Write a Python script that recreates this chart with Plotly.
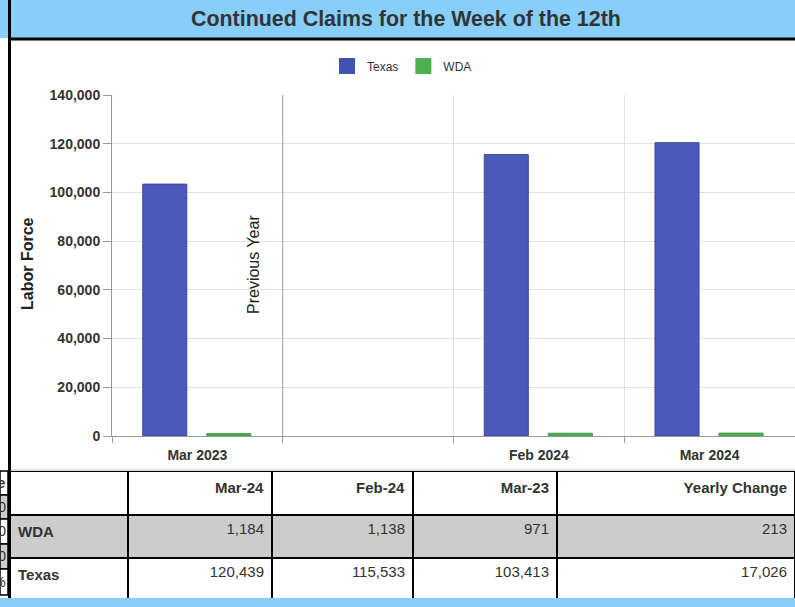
import plotly.graph_objects as go

W, H = 795, 607          # reference picture size
LAYOUT_H = 623           # rendered height (the capture squeezes it back to 607)
K = LAYOUT_H / H

# ---- data ----
categories = ["Mar 2023", " ", "Feb 2024", "Mar 2024"]
texas_values = [103413, None, 115533, 120439]
wda_values = [971, None, 1138, 1184]

table_columns = ["", "Mar-24", "Feb-24", "Mar-23", "Yearly Change"]
table_rows = ["WDA", "Texas"]
mar24 = [1184, 120439]
feb24 = [1138, 115533]
mar23 = [971, 103413]
yearly_change = [a - b for a, b in zip(mar24, mar23)]

y_ticks = [0, 20000, 40000, 60000, 80000, 100000, 120000, 140000]

FONT = "Liberation Sans, Arial, sans-serif"
BLUE_BAND = "#87cefa"
TEXAS = "#4b59bb"
WDA = "#4caf50"


def px(x):
    return x / W


def py(y):
    return 1 - y / H


fig = go.Figure()

fig.add_trace(go.Bar(name="Texas", x=categories, y=texas_values, width=0.258, offset=-0.32,
                     marker=dict(color=TEXAS, line=dict(color="#3a47a3", width=1)),
                     showlegend=False))
fig.add_trace(go.Bar(name="WDA", x=categories, y=wda_values, width=0.258, offset=0.055,
                     marker=dict(color=WDA, line=dict(color="#3d9a41", width=1)),
                     showlegend=False))
fig.add_trace(go.Scatter(name="Texas", x=[None], y=[None], mode="markers",
                         marker=dict(symbol="square", size=16, color="#3f51b5")))
fig.add_trace(go.Scatter(name="WDA", x=[None], y=[None], mode="markers",
                         marker=dict(symbol="square", size=16, color=WDA)))

fmt = lambda v: f"{v:,}"
fig.add_trace(go.Table(
    domain=dict(x=[px(10), 1], y=[py(598), py(471)]),
    columnwidth=[118, 144, 141, 144, 238],
    header=dict(values=[f"<b>{c}</b>" for c in table_columns],
                align=["left", "right", "right", "right", "right"],
                fill_color="white",
                line=dict(color="black", width=2),
                font=dict(family=FONT, size=15, color="#333"),
                height=43 * K),
    cells=dict(values=[[f"<b>{r}</b>" for r in table_rows],
                       [fmt(v) for v in mar24],
                       [fmt(v) for v in feb24],
                       [fmt(v) for v in mar23],
                       [fmt(v) for v in yearly_change]],
               align=["left", "right", "right", "right", "right"],
               fill_color=[["#cccccc", "white"]] * 5,
               line=dict(color="black", width=2),
               font=dict(family=FONT, size=15, color="#333"),
               height=42 * K),
))

shapes = [
    dict(type="rect", xref="paper", yref="paper", x0=0, x1=1, y0=py(38), y1=1,
         fillcolor=BLUE_BAND, line=dict(width=0), layer="below"),
    dict(type="line", xref="paper", yref="paper", x0=px(9), x1=1, y0=py(39), y1=py(39),
         line=dict(color="black", width=3)),
    dict(type="rect", xref="paper", yref="paper", x0=0, x1=1, y0=0, y1=py(598),
         fillcolor=BLUE_BAND, line=dict(width=0), layer="below"),
    dict(type="line", xref="paper", yref="paper", x0=px(10), x1=1, y0=py(470), y1=py(470),
         line=dict(color="#dddddd", width=2)),
    dict(type="line", xref="paper", yref="paper", x0=px(9.5), x1=px(9.5), y0=py(598), y1=1,
         line=dict(color="black", width=3)),
    dict(type="line", xref="x", yref="y domain", x0=0.5, x1=0.5, y0=-0.012, y1=1,
         line=dict(color="#a0a0a0", width=1)),
]

frag_rows = [(471, 495, "white"), (495, 519, "#cccccc"), (519, 544, "white"),
             (544, 569, "#cccccc"), (569, 595, "white")]
for y0, y1, c in frag_rows:
    shapes.append(dict(type="rect", xref="paper", yref="paper", x0=0, x1=px(8),
                       y0=py(y1), y1=py(y0), fillcolor=c,
                       line=dict(color="black", width=1.5)))

annotations = [
    dict(text="<b>Continued Claims for the Week of the 12th</b>", x=px(405.5), y=py(19),
         xref="paper", yref="paper", xanchor="center", yanchor="middle", showarrow=False,
         font=dict(family=FONT, size=21.4, color="#333")),
    dict(text="<b>Labor Force</b>", x=px(27), y=py(264), xref="paper", yref="paper",
         xanchor="center", yanchor="middle",
         showarrow=False, textangle=-90, font=dict(family=FONT, size=16, color="#222")),
    dict(text="Previous Year", x=px(253), y=py(265), xref="paper", yref="paper",
         xanchor="center", yanchor="middle",
         showarrow=False, textangle=-90, font=dict(family=FONT, size=16, color="#222")),
]
frag_texts = [(483, "<b>Change</b>"), (507, "1,500"), (531, "2,000"), (556, "1,000"), (582, "10.5%")]
for y, t in frag_texts:
    annotations.append(dict(text=t, x=px(8), y=py(y), xref="paper", yref="paper",
                            xanchor="right", yanchor="middle", showarrow=False,
                            font=dict(family=FONT, size=14, color="#333")))

fig.update_layout(
    width=W, height=LAYOUT_H,
    margin=dict(l=0, r=0, t=0, b=0),
    paper_bgcolor="white", plot_bgcolor="white",
    font=dict(family=FONT, color="#333"),
    barmode="group",
    showlegend=True,
    legend=dict(orientation="h", x=px(402), xanchor="center", y=py(66), yanchor="middle",
                font=dict(family=FONT, size=12, color="#333"), bgcolor="rgba(0,0,0,0)",
                itemclick=False),
    xaxis=dict(domain=[px(112), 1], type="category", categoryorder="array",
               categoryarray=categories, tickson="boundaries",
               showgrid=True, gridcolor="#e2e2e2", gridwidth=1,
               ticks="outside", ticklen=6, tickcolor="#999",
               showline=True, linecolor="#999", linewidth=1, ticklabelstandoff=6,
               tickfont=dict(family=FONT, size=14, color="#333", weight="bold")),
    yaxis=dict(domain=[py(436), py(95)], range=[0, 140000], tickvals=y_ticks,
               tickformat=",", showgrid=True, gridcolor="#e2e2e2", gridwidth=1,
               ticks="outside", ticklen=8, tickcolor="#999",
               showline=True, linecolor="#999", linewidth=1, zeroline=False,
               tickfont=dict(family=FONT, size=14, color="#333", weight="bold")),
    shapes=shapes,
    annotations=annotations,
)

post = (
    "document.documentElement.style.margin='0';"
    "document.documentElement.style.overflow='hidden';"
    "document.body.style.margin='0';document.body.style.padding='0';"
    "document.body.style.overflow='hidden';"
    "var g=document.querySelector('.plotly-graph-div');"
    "g.style.position='fixed';g.style.left='0px';g.style.top='-8px';"
)
fig.write_html("out.html", config={"displayModeBar": False}, post_script=post)
